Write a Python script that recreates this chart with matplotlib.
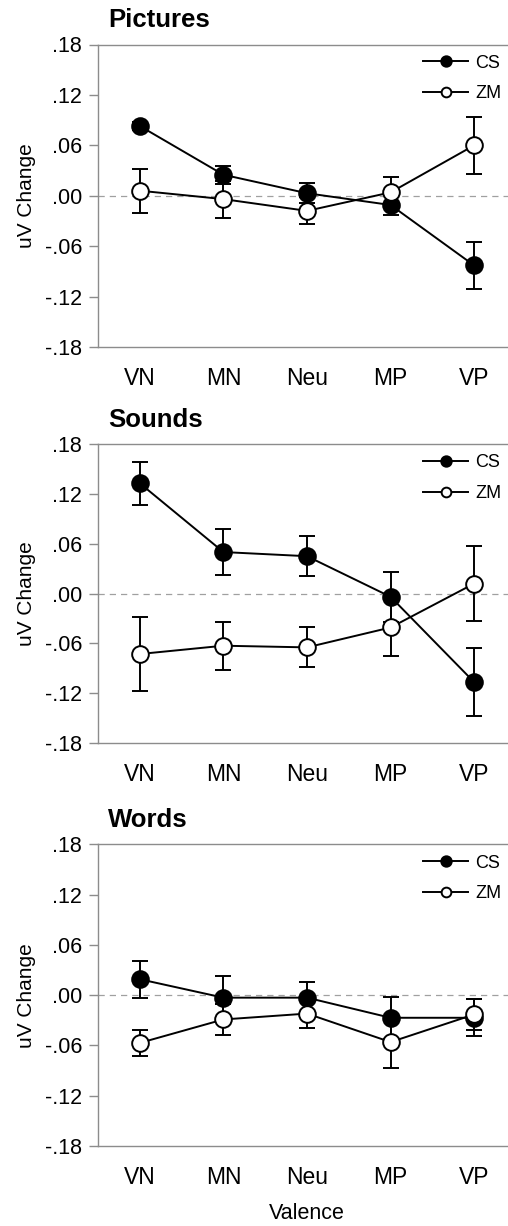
import numpy as np
import matplotlib
matplotlib.use("Agg")
import matplotlib.pyplot as plt
from matplotlib.lines import Line2D

#Font setup, Arial-like.
plt.rcParams['font.family'] = ['Liberation Sans', 'DejaVu Sans']

#Data.
valence = ["VN", "MN", "Neu", "MP", "VP"]
panels = ["Pictures", "Sounds", "Words"]

pictures_cs = [0.083, 0.025, 0.003, -0.011, -0.083]
pictures_cs_err = [0.005, 0.011, 0.012, 0.012, 0.028]
pictures_zm = [0.006, -0.004, -0.018, 0.004, 0.060]
pictures_zm_err = [0.026, 0.022, 0.016, 0.018, 0.034]

sounds_cs = [0.133, 0.050, 0.045, -0.004, -0.107]
sounds_cs_err = [0.026, 0.028, 0.024, 0.030, 0.041]
sounds_zm = [-0.073, -0.063, -0.065, -0.041, 0.012]
sounds_zm_err = [0.045, 0.029, 0.024, 0.034, 0.045]

words_cs = [0.019, -0.003, -0.003, -0.027, -0.027]
words_cs_err = [0.022, 0.026, 0.019, 0.025, 0.022]
words_zm = [-0.057, -0.029, -0.022, -0.056, -0.023]
words_zm_err = [0.016, 0.018, 0.017, 0.031, 0.018]

cs_data = [(pictures_cs, pictures_cs_err), (sounds_cs, sounds_cs_err), (words_cs, words_cs_err)]
zm_data = [(pictures_zm, pictures_zm_err), (sounds_zm, sounds_zm_err), (words_zm, words_zm_err)]

yticks = [-0.18, -0.12, -0.06, 0.0, 0.06, 0.12, 0.18]
ytick_labels = ["-.18", "-.12", "-.06", ".00", ".06", ".12", ".18"]

W, H = 508, 1226
fig = plt.figure(figsize=(W / 100, H / 100), dpi=100)

#Axes boxes in pixels: top, bottom.
boxes = [(44.5, 347), (444.3, 742.7), (844.3, 1146)]
left, right = 98, 516
grey = "#8c8c8c"
x = np.arange(len(valence))

for k in range(3):
    top, bottom = boxes[k]
    ax = fig.add_axes([left / W, 1 - bottom / H, (right - left) / W, (bottom - top) / H])
    #Zero reference line.
    ax.axhline(0, color="#a0a0a0", lw=0.9, ls=(0, (5, 4)), zorder=1)
    cs, cs_err = cs_data[k]
    zm, zm_err = zm_data[k]
    ax.errorbar(x, cs, yerr=cs_err, color="black", lw=1.4, elinewidth=1.4,
                capsize=5.5, capthick=1.4, marker="o", ms=12, mfc="black", mec="black",
                mew=1.4, zorder=3)
    ax.errorbar(x, zm, yerr=zm_err, color="black", lw=1.4, elinewidth=1.4,
                capsize=5.5, capthick=1.4, marker="o", ms=12, mfc="white", mec="black",
                mew=1.4, zorder=4)
    ax.set_xlim(-0.5, 4.5)
    ax.set_ylim(-0.18, 0.18)
    ax.set_xticks(x)
    ax.set_xticklabels(valence, fontsize=16.5)
    ax.set_yticks(yticks)
    ax.set_yticklabels(ytick_labels, fontsize=15.5)
    ax.tick_params(axis="x", length=0, pad=14.5)
    ax.tick_params(axis="y", length=6.5, width=1, color=grey, pad=5)
    for s in ["left", "bottom", "top"]:
        ax.spines[s].set_color(grey)
        ax.spines[s].set_linewidth(1)
    ax.spines["right"].set_visible(False)
    ax.set_ylabel("uV Change", fontsize=15, va="center")
    ax.yaxis.set_label_coords((26 - left) / (right - left), 0.5)
    ax.text((108 - left) / (right - left), 1 + 24.5 / (bottom - top), panels[k],
            transform=ax.transAxes, fontsize=18.5, fontweight="bold", va="center", ha="left")
    #Legend.
    handles = [Line2D([], [], color="black", lw=1.4, marker="o", ms=7.5, mfc="black", mec="black", mew=1.4),
               Line2D([], [], color="black", lw=1.4, marker="o", ms=7, mfc="white", mec="black", mew=1.4)]
    ax.legend(handles, ["CS", "ZM"], loc="upper left", bbox_to_anchor=(0.7775, 0.966),
              frameon=False, fontsize=13, handlelength=2.5, handletextpad=0.4,
              labelspacing=0.75, borderpad=0, borderaxespad=0)
    if k == 2:
        ax.set_xlabel("Valence", fontsize=15.5, labelpad=10)

fig.savefig("out.png", dpi=100)
